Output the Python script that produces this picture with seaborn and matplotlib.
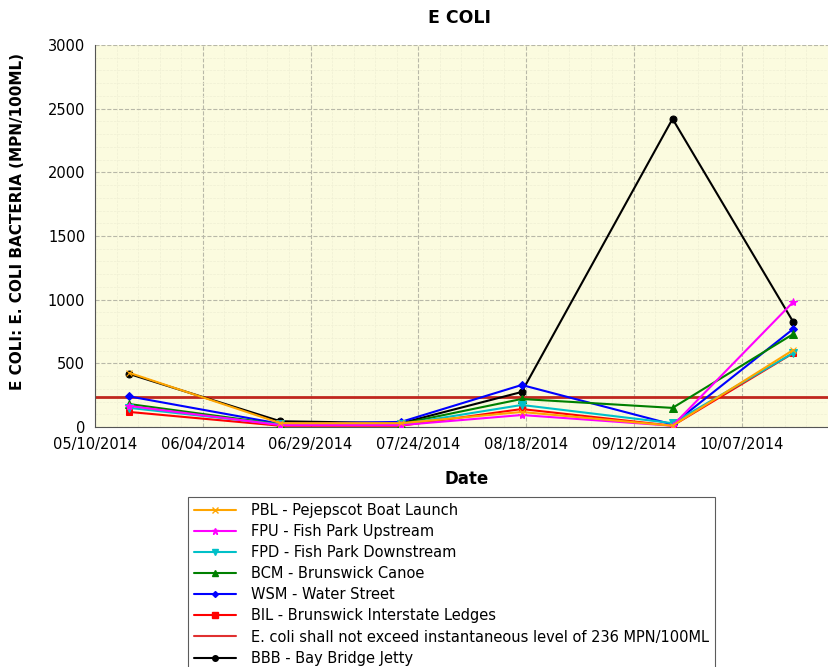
import pandas as pd
import numpy as np
import matplotlib
matplotlib.use("Agg")
import matplotlib.pyplot as plt
import matplotlib.dates as mdates
from matplotlib.ticker import MultipleLocator, FixedLocator
import seaborn as sns

# sample dates and E. coli readings (MPN/100ML) per site
dates = pd.to_datetime(["2014-05-18", "2014-06-22", "2014-07-20",
                        "2014-08-17", "2014-09-21", "2014-10-19"])

pbl = [425, 30, 30, 118, 10, 605]
fpu = [165, 15, 15, 94, 10, 982]
fpd = [150, 20, 20, 173, 30, 581]
bcm = [180, 20, 25, 220, 150, 730]
wsm = [240, 25, 40, 330, 20, 770]
bil = [118, 10, 10, 141, 10, 580]
bbb = [416, 45, 30, 275, 2420, 825]
limit = 236

names = ["PBL - Pejepscot Boat Launch", "FPU - Fish Park Upstream",
         "FPD - Fish Park Downstream", "BCM - Brunswick Canoe",
         "WSM - Water Street", "BIL - Brunswick Interstate Ledges",
         "E. coli shall not exceed instantaneous level of 236 MPN/100ML",
         "BBB - Bay Bridge Jetty"]

sns.set_style("white")
plt.rcParams['font.family'] = ['DejaVu Sans']
plt.rcParams['text.color'] = 'black'

fig = plt.figure(figsize=(8.29, 6.67), dpi=100)
ax = fig.add_axes([95/829, 1 - 427/667, 734/829, 382/667])
ax.set_facecolor("#FBFBDF")

start = pd.Timestamp("2014-05-10")
end = start + pd.Timedelta(days=170.3)

# threshold line
ax.axhline(limit, color="#C0281E", lw=2, zorder=2)

styles = {
    "BBB": (bbb, "black", "o", 5),
    "BIL": (bil, "#FF0000", "s", 5),
    "WSM": (wsm, "#0000FF", "D", 4),
    "BCM": (bcm, "#008000", "^", 6),
    "FPD": (fpd, "#00C0C8", "v", 6),
    "FPU": (fpu, "#FF00FF", "*", 6),
    "PBL": (pbl, "#FFA500", "x", 5),
}
for key, (vals, col, mk, ms) in styles.items():
    sns.lineplot(x=dates, y=vals, color=col, marker=mk, markersize=ms,
                 markeredgecolor=col, linewidth=1.5, ax=ax, zorder=3)

ax.set_xlim(start, end)
ax.set_ylim(0, 3000)
major = pd.date_range(start, periods=8, freq="25D")
minor = pd.date_range(start, periods=40, freq="5D")
ax.xaxis.set_major_locator(FixedLocator(mdates.date2num(major)))
ax.xaxis.set_minor_locator(FixedLocator(mdates.date2num(minor)))
ax.xaxis.set_major_formatter(mdates.DateFormatter("%m/%d/%Y"))
ax.yaxis.set_major_locator(MultipleLocator(500))
ax.yaxis.set_minor_locator(MultipleLocator(100))

ax.grid(which="major", color="#B8B8A8", linestyle="--", linewidth=0.8)
ax.grid(which="minor", color="#EFEFD4", linestyle="--", linewidth=0.5)
ax.set_axisbelow(True)

ax.tick_params(which="major", direction="inout", length=7, width=1,
               color="#555555", labelsize=10.5, labelcolor="black")
ax.tick_params(which="minor", direction="inout", length=4, width=0.8,
               color="#555555")
for s in ["top", "right"]:
    ax.spines[s].set_visible(False)
for s in ["left", "bottom"]:
    ax.spines[s].set_color("#555555")
ax.set_xlabel("")
ax.set_ylabel("")

fig.text(460/829, 1 - 18/667, "E COLI", ha="center", va="center",
         fontsize=12.5, fontweight="bold")
fig.text(467/829, 1 - 479/667, "Date", ha="center", va="center",
         fontsize=12, fontweight="bold")
fig.text(18/829, 1 - 222/667, "E COLI: E. COLI BACTERIA (MPN/100ML)",
         rotation=90, ha="center", va="center", fontsize=11, fontweight="bold")

order = ["PBL", "FPU", "FPD", "BCM", "WSM", "BIL", "THR", "BBB"]
hl = []
for key in order:
    if key == "THR":
        hl.append(plt.Line2D([], [], color="#E03030", lw=1.5))
    else:
        vals, col, mk, ms = styles[key]
        hl.append(plt.Line2D([], [], color=col, marker=mk, markersize=ms - 1,
                             markeredgecolor=col, lw=1.5))
leg = fig.legend(hl, names, loc="upper left",
                 bbox_to_anchor=(188/829, 1 - 497/667), frameon=True,
                 fancybox=False, edgecolor="#333333", fontsize=10.5,
                 handlelength=2.9, handletextpad=1.0, labelspacing=0.42,
                 borderpad=0.4, borderaxespad=0)
leg.get_frame().set_linewidth(0.8)
for t in leg.get_texts():
    t.set_color("black")

fig.savefig("out.png", dpi=100, facecolor="white")
